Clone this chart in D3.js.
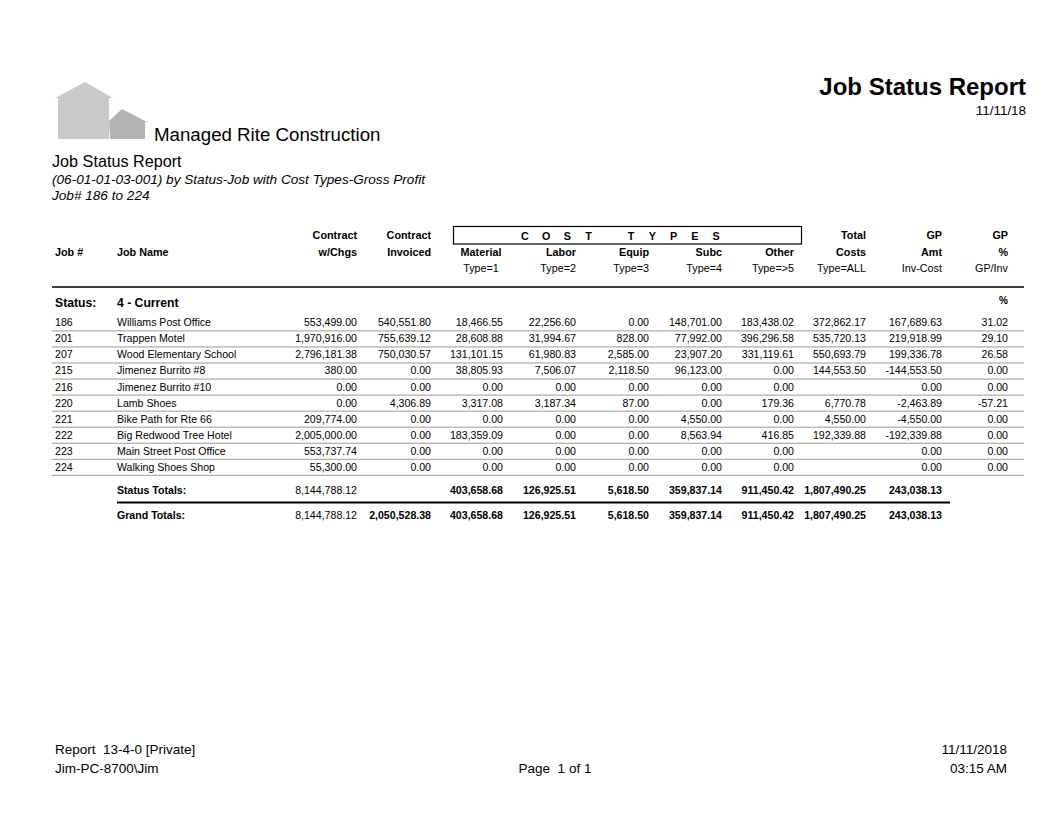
<!DOCTYPE html>
<html>
<head>
<meta charset="utf-8">
<script src="https://cdn.jsdelivr.net/npm/d3@7"></script>
<style>
  html, body { margin: 0; padding: 0; background: #fff; }
  svg { display: block; font-family: "Liberation Sans", Arial, sans-serif; }
</style>
</head>
<body>
<svg id="chart" width="1064" height="822"></svg>
<script>
// ---------- data ----------
const jobNums = ["186","201","207","215","216","220","221","222","223","224"];
const jobNames = ["Williams Post Office","Trappen Motel","Wood Elementary School","Jimenez Burrito #8",
  "Jimenez Burrito #10","Lamb Shoes","Bike Path for Rte 66","Big Redwood Tree Hotel",
  "Main Street Post Office","Walking Shoes Shop"];
const contractWChgs   = [553499.00,1970916.00,2796181.38,380.00,0.00,0.00,209774.00,2005000.00,553737.74,55300.00];
const contractInvoiced= [540551.80,755639.12,750030.57,0.00,0.00,4306.89,0.00,0.00,0.00,0.00];
const materialCost    = [18466.55,28608.88,131101.15,38805.93,0.00,3317.08,0.00,183359.09,0.00,0.00];
const laborCost       = [22256.60,31994.67,61980.83,7506.07,0.00,3187.34,0.00,0.00,0.00,0.00];
const equipCost       = [0.00,828.00,2585.00,2118.50,0.00,87.00,0.00,0.00,0.00,0.00];
const subcCost        = [148701.00,77992.00,23907.20,96123.00,0.00,0.00,4550.00,8563.94,0.00,0.00];
const otherCost       = [183438.02,396296.58,331119.61,0.00,0.00,179.36,0.00,416.85,0.00,0.00];
const totalCosts      = [372862.17,535720.13,550693.79,144553.50,null,6770.78,4550.00,192339.88,null,null];
const gpAmt           = [167689.63,219918.99,199336.78,-144553.50,0.00,-2463.89,-4550.00,-192339.88,0.00,0.00];
const gpPct           = [31.02,29.10,26.58,0.00,0.00,-57.21,0.00,0.00,0.00,0.00];

const totalLabels     = ["Status Totals:","Grand Totals:"];
const totContract     = [8144788.12, 8144788.12];
const totInvoiced     = [null, 2050528.38];
const totMaterial     = [403658.68, 403658.68];
const totLabor        = [126925.51, 126925.51];
const totEquip        = [5618.50, 5618.50];
const totSubc         = [359837.14, 359837.14];
const totOther        = [911450.42, 911450.42];
const totCosts        = [1807490.25, 1807490.25];
const totGP           = [243038.13, 243038.13];

const headLine1 = ["", "", "Contract", "Contract", "", "", "", "", "", "Total", "GP", "GP"];
const headLine2 = ["Job #", "Job Name", "w/Chgs", "Invoiced", "Material", "Labor", "Equip", "Subc", "Other", "Costs", "Amt", "%"];
const headLine3 = ["", "", "", "", "Type=1", "Type=2", "Type=3", "Type=4", "Type=>5", "Type=ALL", "Inv-Cost", "GP/Inv"];
const costTypesTitle = ["C","O","S","T"," ","T","Y","P","E","S"];

const companyName = "Managed Rite Construction";
const reportTitle = "Job Status Report";
const reportSub1 = "(06-01-01-03-001) by Status-Job with Cost Types-Gross Profit";
const reportSub2 = "Job# 186 to 224";
const reportDate = "11/11/18";
const statusLabel = "Status:";
const statusName = "4 - Current";
const footerLeft = ["Report  13-4-0 [Private]", "Jim-PC-8700\\Jim"];
const footerCenter = "Page  1 of 1";
const footerRight = ["11/11/2018", "03:15 AM"];

// ---------- setup ----------
const svg = d3.select("#chart");
const locale = d3.formatLocale({decimal: ".", thousands: ",", grouping: [3], currency: ["$", ""], minus: "-"});
const fmt = locale.format(",.2f");
const f = v => (v === null || v === undefined) ? "" : fmt(v);

svg.append("rect").attr("width", 1064).attr("height", 822).attr("fill", "#fff");

// ---------- logo ----------
const logo = svg.append("g");
logo.append("path")
  .attr("d", "M55,98 L85,82 L113,98 L109,98 L109,139 L58,139 L58,98 Z")
  .attr("fill", "#c9c9c9");
logo.append("path")
  .attr("d", "M109,121 L122,109 L147,122 L145,122 L145,139 L110,139 Z")
  .attr("fill", "#b3b3b3");

svg.append("text").attr("x", 154).attr("y", 141).attr("font-size", 18.7).attr("fill", "#000").text(companyName);
svg.append("text").attr("x", 52).attr("y", 166.5).attr("font-size", 16.2).text(reportTitle);
svg.append("text").attr("x", 52).attr("y", 184).attr("font-size", 13.6).attr("font-style", "italic").text(reportSub1);
svg.append("text").attr("x", 52).attr("y", 199.5).attr("font-size", 13.6).attr("font-style", "italic").text(reportSub2);

svg.append("text").attr("x", 1026).attr("y", 95).attr("text-anchor", "end")
  .attr("font-size", 24).attr("font-weight", "bold").text(reportTitle);
svg.append("text").attr("x", 1026).attr("y", 114.5).attr("text-anchor", "end")
  .attr("font-size", 13.4).text(reportDate);

// ---------- columns ----------
const colKeys = ["job","name","wchgs","invoiced","material","labor","equip","subc","other","total","gp","pct"];
const colX = d3.scaleOrdinal().domain(colKeys)
  .range([55, 117, 357, 431, 503, 576, 649, 722, 794, 866, 942, 1008]);
const colAnchor = k => (k === "job" || k === "name") ? "start" : "end";

// header box
svg.append("rect").attr("x", 453.5).attr("y", 226.5).attr("width", 348).attr("height", 17.5)
  .attr("fill", "none").attr("stroke", "#000").attr("stroke-width", 1.2);
const letterX = d3.scalePoint().domain(d3.range(costTypesTitle.length)).range([525, 716]);
svg.append("g").selectAll("text").data(costTypesTitle).join("text")
  .attr("x", (d, i) => letterX(i)).attr("y", 239.5).attr("text-anchor", "middle")
  .attr("font-size", 10.8).attr("font-weight", "bold").text(d => d);

const headerY = [239, 256, 272];
[headLine1, headLine2, headLine3].forEach((line, li) => {
  svg.append("g").selectAll("text").data(line).join("text")
    .attr("x", (d, i) => colKeys[i] === "material" ? 481 : colX(colKeys[i]))
    .attr("y", headerY[li])
    .attr("text-anchor", (d, i) => colKeys[i] === "material" ? "middle" : colAnchor(colKeys[i]))
    .attr("font-size", 10.8)
    .attr("font-weight", li < 2 ? "bold" : "normal")
    .text(d => d);
});

svg.append("line").attr("x1", 52).attr("x2", 1024).attr("y1", 287).attr("y2", 287)
  .attr("stroke", "#000").attr("stroke-width", 1.5);

svg.append("text").attr("x", 55).attr("y", 306.5).attr("font-size", 12.2).attr("font-weight", "bold").text(statusLabel);
svg.append("text").attr("x", 117).attr("y", 306.5).attr("font-size", 12.2).attr("font-weight", "bold").text(statusName);
svg.append("text").attr("x", 1008).attr("y", 303.5).attr("text-anchor", "end").attr("font-size", 10).attr("font-weight", "bold").text("%");

// ---------- data rows ----------
const rowY = d3.scaleLinear().domain([0, jobNums.length - 1]).range([326.3, 326.3 + 9 * 16.05]);
const rows = jobNums.map((j, i) => ({
  job: j, name: jobNames[i],
  wchgs: f(contractWChgs[i]), invoiced: f(contractInvoiced[i]),
  material: f(materialCost[i]), labor: f(laborCost[i]), equip: f(equipCost[i]),
  subc: f(subcCost[i]), other: f(otherCost[i]), total: f(totalCosts[i]),
  gp: f(gpAmt[i]), pct: f(gpPct[i])
}));

const rowG = svg.append("g").selectAll("g").data(rows).join("g")
  .attr("transform", (d, i) => `translate(0,${rowY(i)})`);
rowG.append("line").attr("x1", 52).attr("x2", 1024).attr("y1", 4.6).attr("y2", 4.6)
  .attr("stroke", "#9a9a9a").attr("stroke-width", 1);
rowG.selectAll("text").data(d => colKeys.map(k => ({k, v: d[k]}))).join("text")
  .attr("x", d => colX(d.k)).attr("text-anchor", d => colAnchor(d.k))
  .attr("font-size", 10.6).text(d => d.v);

// ---------- totals ----------
const totalY = [494, 519];
const totRows = totalLabels.map((l, i) => ({
  name: l, wchgs: f(totContract[i]), invoiced: f(totInvoiced[i]),
  material: f(totMaterial[i]), labor: f(totLabor[i]), equip: f(totEquip[i]),
  subc: f(totSubc[i]), other: f(totOther[i]), total: f(totCosts[i]), gp: f(totGP[i])
}));
const totKeys = ["name","wchgs","invoiced","material","labor","equip","subc","other","total","gp"];
const totG = svg.append("g").selectAll("g").data(totRows).join("g")
  .attr("transform", (d, i) => `translate(0,${totalY[i]})`);
totG.selectAll("text").data(d => totKeys.map(k => ({k, v: d[k]}))).join("text")
  .attr("x", d => colX(d.k)).attr("text-anchor", d => colAnchor(d.k))
  .attr("font-size", 10.6)
  .attr("font-weight", d => d.k === "wchgs" ? "normal" : "bold")
  .text(d => d.v);
svg.append("line").attr("x1", 117).attr("x2", 950).attr("y1", 502.5).attr("y2", 502.5)
  .attr("stroke", "#000").attr("stroke-width", 2.2);

// ---------- footer ----------
svg.append("g").selectAll("text").data(footerLeft).join("text")
  .attr("x", 55).attr("y", (d, i) => 754 + i * 18.5).attr("font-size", 13.5)
  .style("white-space", "pre").text(d => d);
svg.append("text").attr("x", 555).attr("y", 772.5).attr("text-anchor", "middle")
  .attr("font-size", 13.5).style("white-space", "pre").text(footerCenter);
svg.append("g").selectAll("text").data(footerRight).join("text")
  .attr("x", 1007).attr("y", (d, i) => 754 + i * 18.5).attr("text-anchor", "end")
  .attr("font-size", 13.5).text(d => d);
</script>
</body>
</html>
